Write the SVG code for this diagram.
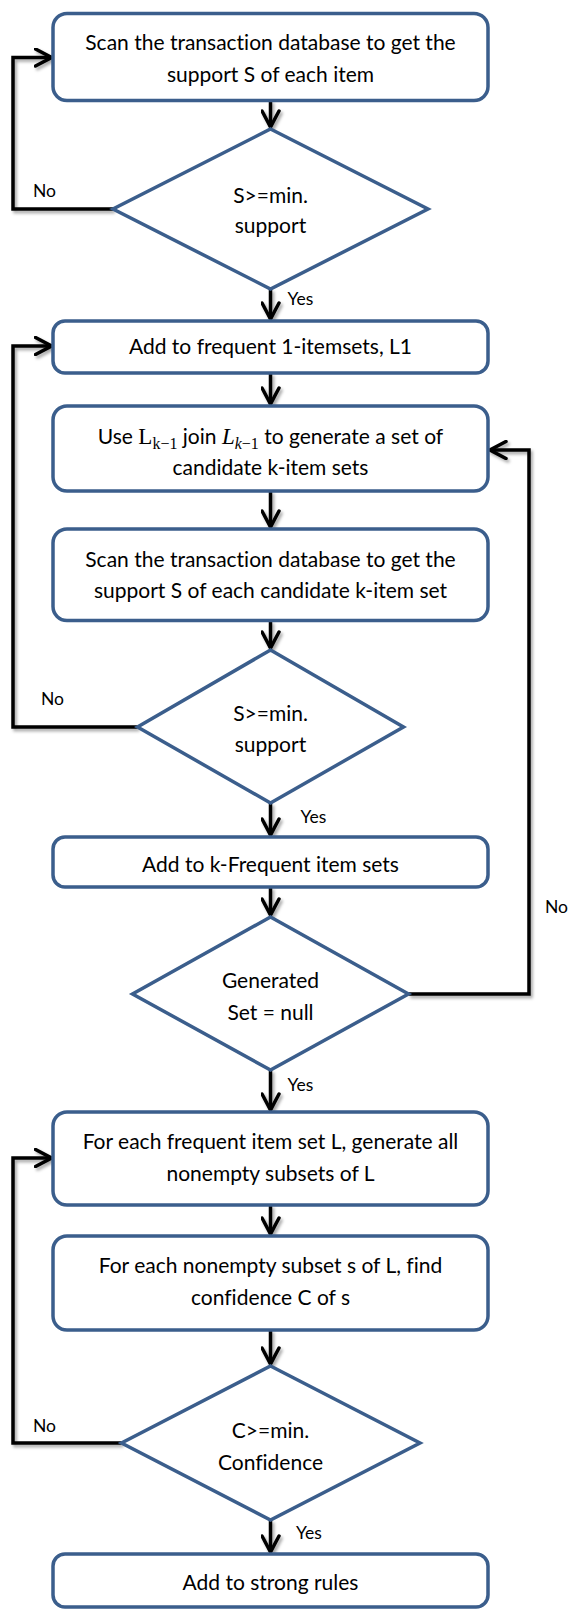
<svg xmlns="http://www.w3.org/2000/svg" width="569" height="1610" viewBox="0 0 569 1610">
  <style>
    .box { fill: #ffffff; stroke: #3b5e8c; stroke-width: 3.5; }
    .lbl { font-family: Lato, "Liberation Sans", sans-serif; font-size: 21px; fill: #000; text-anchor: middle; font-variant-ligatures: none; }
    .tag { font-family: Lato, "Liberation Sans", sans-serif; font-size: 17.5px; fill: #000; }
    .math { font-family: "Liberation Serif", "DejaVu Serif", serif; }
    .wire { fill: none; stroke: #000; stroke-width: 3.5; stroke-linejoin: miter; }
  </style>
  <defs>
    <marker id="chev" viewBox="-18 -10 20 20" refX="0" refY="0" markerWidth="20" markerHeight="20" markerUnits="userSpaceOnUse" orient="auto">
      <path d="M-16,-8.5 L0,0 L-16,8.5" fill="none" stroke="#000" stroke-width="3.5" stroke-linecap="round" stroke-linejoin="miter"/>
    </marker>
    <filter id="shadow" x="-20%" y="-20%" width="140%" height="140%">
      <feDropShadow dx="2" dy="2.5" stdDeviation="1.5" flood-color="#000" flood-opacity="0.35"/>
    </filter>
  </defs>

  <!-- connectors -->
  <g id="connectors" class="wire" filter="url(#shadow)" marker-end="url(#chev)">
    <path d="M270.5,100.5 V127"/>
    <path d="M270.5,289 V319"/>
    <path d="M270.5,373 V404"/>
    <path d="M270.5,491 V527"/>
    <path d="M270.5,621 V648"/>
    <path d="M270.5,803 V835"/>
    <path d="M270.5,887 V915"/>
    <path d="M270.5,1070 V1110"/>
    <path d="M270.5,1205 V1234"/>
    <path d="M270.5,1330 V1364"/>
    <path d="M270.5,1520 V1552"/>
    <!-- feedback loops -->
    <path d="M113,209 H13 V57.5 H51.5"/>
    <path d="M137.5,727 H13 V346 H51.5"/>
    <path d="M408.5,994 H529 V450 H490"/>
    <path d="M121.5,1443 H13 V1158 H51.5"/>
  </g>

  <!-- branch labels -->
  <g id="branch-labels" class="tag">
    <text x="33" y="197">No</text>
    <text x="287.5" y="305">Yes</text>
    <text x="41" y="705">No</text>
    <text x="300.5" y="822.5">Yes</text>
    <text x="545" y="913">No</text>
    <text x="287.5" y="1090.5">Yes</text>
    <text x="33" y="1431.5">No</text>
    <text x="296" y="1539">Yes</text>
  </g>

  <g id="scan-items">
    <rect class="box" x="53" y="13.5" width="435" height="87" rx="14"/>
    <text class="lbl" x="270.5" y="50">Scan the transaction database to get the</text>
    <text class="lbl" x="270.5" y="82">support S of each item</text>
  </g>

  <g id="check-support-1">
    <polygon class="box" points="270.5,129 428,209 270.5,289 113,209"/>
    <text class="lbl" x="270.5" y="202.5">S&gt;=min.</text>
    <text class="lbl" x="270.5" y="233">support</text>
  </g>

  <g id="frequent-1-itemsets">
    <rect class="box" x="53" y="321" width="435" height="52" rx="12"/>
    <text class="lbl" x="270.5" y="354">Add to frequent 1-itemsets, L1</text>
  </g>

  <g id="join-candidates">
    <rect class="box" x="53" y="406" width="435" height="85" rx="14"/>
    <text class="lbl" x="270.5" y="444">Use <tspan class="math" font-size="23">L</tspan><tspan class="math" font-size="16" dy="5">k−1</tspan><tspan dy="-5"> join </tspan><tspan class="math" font-size="23" font-style="italic">L</tspan><tspan class="math" font-size="16" dy="5"><tspan font-style="italic">k</tspan>−1</tspan><tspan dy="-5"> to generate a set of</tspan></text>
    <text class="lbl" x="270.5" y="475">candidate k-item sets</text>
  </g>

  <g id="scan-candidates">
    <rect class="box" x="53" y="529" width="435" height="91.5" rx="14"/>
    <text class="lbl" x="270.5" y="567">Scan the transaction database to get the</text>
    <text class="lbl" x="270.5" y="598">support S of each candidate k-item set</text>
  </g>

  <g id="check-support-k">
    <polygon class="box" points="270.5,650 403.5,727 270.5,803 137.5,727"/>
    <text class="lbl" x="270.5" y="721">S&gt;=min.</text>
    <text class="lbl" x="270.5" y="752">support</text>
  </g>

  <g id="frequent-k-itemsets">
    <rect class="box" x="53" y="837" width="435" height="50" rx="12"/>
    <text class="lbl" x="270.5" y="871.5">Add to k-Frequent item sets</text>
  </g>

  <g id="check-null">
    <polygon class="box" points="270.5,917 408.5,994 270.5,1070 132.5,994"/>
    <text class="lbl" x="270.5" y="988">Generated</text>
    <text class="lbl" x="270.5" y="1020">Set = null</text>
  </g>

  <g id="generate-subsets">
    <rect class="box" x="53" y="1112" width="435" height="93" rx="14"/>
    <text class="lbl" x="270.5" y="1149">For each frequent item set L, generate all</text>
    <text class="lbl" x="270.5" y="1180.5">nonempty subsets of L</text>
  </g>

  <g id="find-confidence">
    <rect class="box" x="53" y="1236" width="435" height="94" rx="14"/>
    <text class="lbl" x="270.5" y="1273">For each nonempty subset s of L, find</text>
    <text class="lbl" x="270.5" y="1305">confidence C of s</text>
  </g>

  <g id="check-confidence">
    <polygon class="box" points="270.5,1366 420,1443 270.5,1520 121.5,1443"/>
    <text class="lbl" x="270.5" y="1438">C&gt;=min.</text>
    <text class="lbl" x="270.5" y="1470">Confidence</text>
  </g>

  <g id="strong-rules">
    <rect class="box" x="53" y="1554" width="435" height="53" rx="12"/>
    <text class="lbl" x="270.5" y="1590">Add to strong rules</text>
  </g>
</svg>
